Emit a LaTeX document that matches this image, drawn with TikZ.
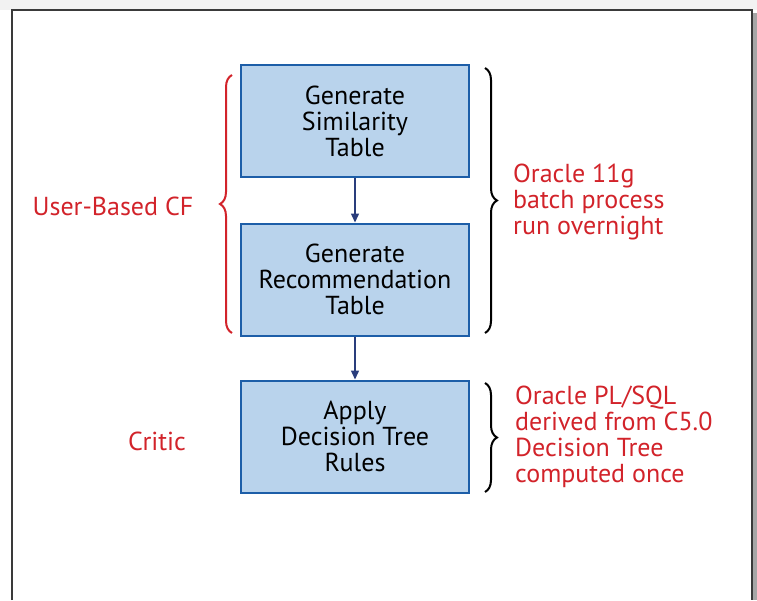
\documentclass[tikz,border=0pt]{standalone}
\usepackage{fontspec}
\setmainfont{PT Sans}
\usetikzlibrary{arrows.meta,decorations.pathreplacing}
\definecolor{boxfill}{HTML}{B9D3EC}
\definecolor{boxline}{HTML}{1D5EA8}
\definecolor{arrowc}{HTML}{2A3D7C}
\definecolor{redtxt}{HTML}{D2232A}
\definecolor{framec}{HTML}{3A3A3A}
\tikzset{
  stepbox/.style={draw=boxline, fill=boxfill, line width=2pt, minimum width=228pt, minimum height=112pt, align=center, inner sep=0pt, font=\fontsize{26}{26}\selectfont},
  flow/.style={draw=arrowc, line width=1.4pt, -{Triangle[width=8pt,length=9pt]}},
  lbl/.style={text=redtxt, font=\fontsize{26}{26}\selectfont, align=left, inner sep=0pt},
  redbrace/.style={draw=redtxt, line width=2pt, decorate, decoration={brace, amplitude=12pt}},
  blkbrace/.style={draw=black, line width=2pt, decorate, decoration={brace, amplitude=12pt}}
}
\begin{document}
\begin{tikzpicture}[x=1pt, y=-1pt]
\useasboundingbox (0,0) rectangle (757,600);
% frame and shadow
\fill[gray!10] (0,0) rectangle (757,10);
\fill[gray!70] (752,13) rectangle (757,600);
\draw[framec, line width=1.2pt] (12,600) -- (12,10) -- (752,10) -- (752,600);
% boxes
\node[stepbox] (sim) at (355,121) {Generate\\Similarity\\Table};
\node[stepbox] (rec) at (355,279.5) {Generate\\Recommendation\\Table};
\node[stepbox] (app) at (355,436.5) {Apply\\Decision Tree\\Rules};
\draw[flow] (sim) -- (rec);
\draw[flow] (rec) -- (app);
% braces
\coordinate (rbB) at (232,333);
\coordinate (rbT) at (232,75);
\draw[redbrace] (rbB) -- (rbT);
\coordinate (b1T) at (485,68);
\coordinate (b1B) at (485,333);
\draw[blkbrace] (b1T) -- (b1B);
\coordinate (b2T) at (485,383);
\coordinate (b2B) at (485,492);
\draw[blkbrace] (b2T) -- (b2B);
% labels
\node[lbl, anchor=center] (ucf) at (113,206) {User-Based CF};
\node[lbl, anchor=center] (critic) at (157,441) {Critic};
\node[lbl, anchor=west] (ora) at (513,202) {Oracle 11g\\batch process\\run overnight};
\node[lbl, anchor=west] (plsql) at (515,437) {Oracle PL/SQL\\derived from C5.0\\Decision Tree\\computed once};
\end{tikzpicture}
\end{document}
